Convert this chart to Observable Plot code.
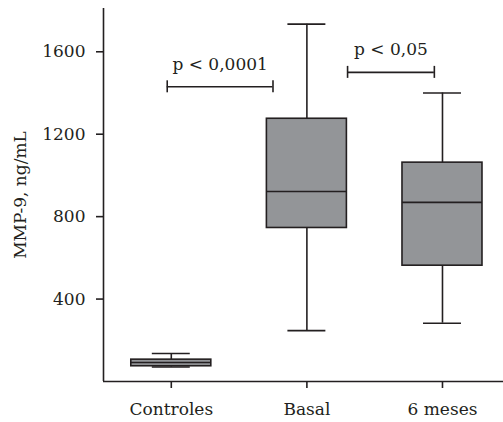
<!DOCTYPE html>
<html>
<head>
<meta charset="utf-8">
<script src="https://cdn.jsdelivr.net/npm/d3@7"></script>
<script src="https://cdn.jsdelivr.net/npm/@observablehq/plot@0.6"></script>
<style>
  html, body { margin: 0; padding: 0; background: #ffffff; }
</style>
</head>
<body>
<div id="chart"></div>
<script>
// ---- data ----
const categories   = ["Controles", "Basal", "6 meses"];
const whiskerLow   = [70, 247, 283];
const quartile1    = [74, 745, 562];
const medians      = [92, 922, 869];
const quartile3    = [106, 1275, 1062];
const whiskerHigh  = [136, 1734, 1400];
const yTicks       = [400, 800, 1200, 1600];

const bracketFrom   = [-0.03, 1.3];
const bracketTo     = [0.75, 1.94];
const bracketLevel  = [1430, 1500];
const bracketLabels = ["p < 0,0001", "p < 0,05"];

// ---- tables built from the arrays ----
const rows = categories.map((c, i) => ({
  i, cat: c, lo: whiskerLow[i], q1: quartile1[i], med: medians[i], q3: quartile3[i], hi: whiskerHigh[i]
}));
const brackets = bracketLabels.map((t, k) => ({
  x1: bracketFrom[k], x2: bracketTo[k], y: bracketLevel[k], label: t
}));

const ink = "#231f20";
const sw = 1.6;
const boxHalf = 0.295;
const capHalf = 0.14;
const fs = 17;

const chart = Plot.plot({
  width: 503,
  height: 422,
  marginLeft: 103,
  marginRight: 0,
  marginTop: 8,
  marginBottom: 41,
  style: { fontFamily: "'DejaVu Serif', serif", fontSize: "17px", color: ink, background: "#ffffff" },
  x: { type: "linear", domain: [-0.5, 2.45] },
  y: { domain: [0, 1810] },
  marks: [
    Plot.axisY({ ticks: yTicks, tickFormat: d => String(d), tickSize: 7, tickPadding: 11, fontSize: fs, label: "MMP-9, ng/mL", labelAnchor: "center", labelOffset: 90, labelArrow: "none", strokeWidth: sw }),
    Plot.axisX({ ticks: [0, 1, 2], tickFormat: i => categories[i], tickSize: 7, tickPadding: 14, fontSize: fs, label: null, strokeWidth: sw }),
    Plot.ruleX([-0.5], { stroke: ink, strokeWidth: sw }),
    Plot.ruleY([0], { stroke: ink, strokeWidth: sw }),
    // whiskers
    Plot.ruleX(rows, { x: "i", y1: "lo", y2: "q1", stroke: ink, strokeWidth: sw }),
    Plot.ruleX(rows, { x: "i", y1: "q3", y2: "hi", stroke: ink, strokeWidth: sw }),
    Plot.ruleY(rows, { y: "lo", x1: d => d.i - capHalf, x2: d => d.i + capHalf, stroke: ink, strokeWidth: sw }),
    Plot.ruleY(rows, { y: "hi", x1: d => d.i - capHalf, x2: d => d.i + capHalf, stroke: ink, strokeWidth: sw }),
    // boxes
    Plot.rect(rows, { x1: d => d.i - boxHalf, x2: d => d.i + boxHalf, y1: "q1", y2: "q3", fill: "#939598", stroke: ink, strokeWidth: sw }),
    Plot.ruleY(rows, { y: "med", x1: d => d.i - boxHalf, x2: d => d.i + boxHalf, stroke: ink, strokeWidth: sw }),
    // significance brackets
    Plot.ruleY(brackets, { y: "y", x1: "x1", x2: "x2", stroke: ink, strokeWidth: sw }),
    Plot.ruleX(brackets, { x: "x1", y1: "y", y2: "y", insetTop: -6, insetBottom: -6, stroke: ink, strokeWidth: sw }),
    Plot.ruleX(brackets, { x: "x2", y1: "y", y2: "y", insetTop: -6, insetBottom: -6, stroke: ink, strokeWidth: sw }),
    Plot.text(brackets, { x: d => (d.x1 + d.x2) / 2, y: "y", text: "label", dy: -17, lineAnchor: "bottom", textAnchor: "middle", fill: ink, fontSize: fs })
  ]
});
document.getElementById("chart").appendChild(chart);
</script>
</body>
</html>
